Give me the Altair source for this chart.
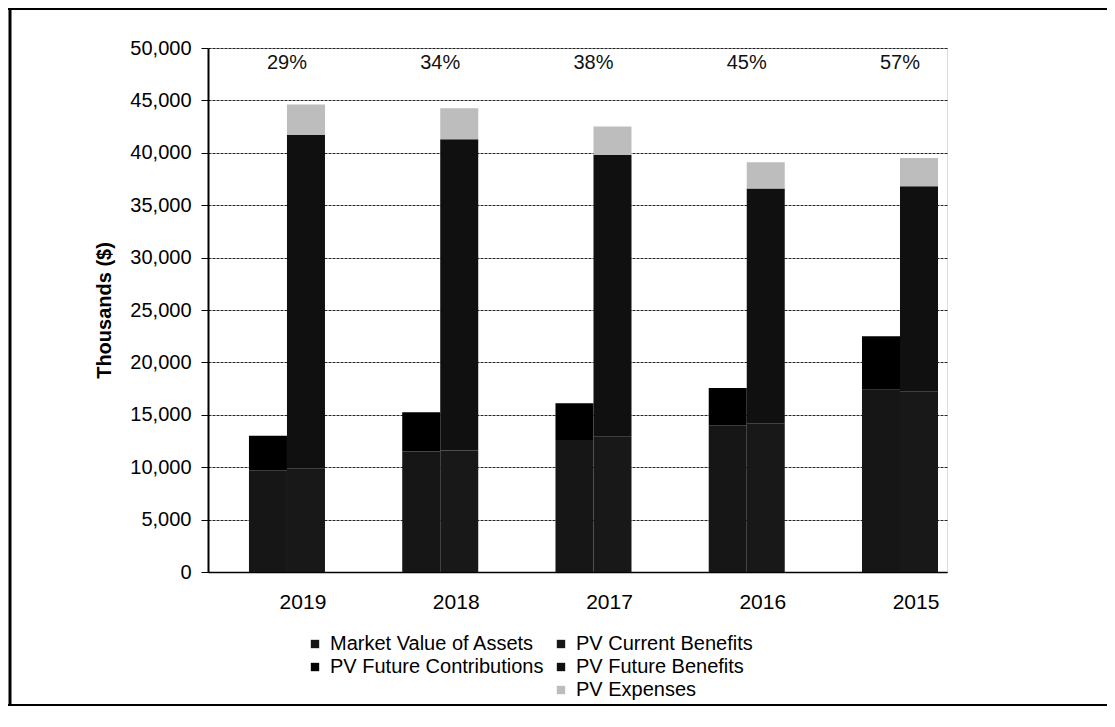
import altair as alt
import pandas as pd

years = ["2019", "2018", "2017", "2016", "2015"]
market_value_assets = [9700, 11500, 12600, 14000, 17400]
pv_future_contrib = [3300, 3750, 3500, 3550, 5100]
pv_current_benefits = [9900, 11600, 12900, 14200, 17200]
pv_future_benefits = [31800, 29700, 26900, 22400, 19600]
pv_expenses = [2900, 2950, 2700, 2500, 2700]
funded_pct = ["29%", "34%", "38%", "45%", "57%"]

left_series = ["Market Value of Assets", "PV Future Contributions"]
right_series = ["PV Current Benefits", "PV Future Benefits", "PV Expenses"]
left_colors = ["#161616", "#000000"]
right_colors = ["#181818", "#101010", "#bdbdbd"]

rows = []
for i, y in enumerate(years):
    for k, (s, vals) in enumerate(zip(left_series, [market_value_assets, pv_future_contrib])):
        rows.append({"year": y, "bar": "L", "series": s, "value": vals[i], "ord": k})
    for k, (s, vals) in enumerate(zip(right_series, [pv_current_benefits, pv_future_benefits, pv_expenses])):
        rows.append({"year": y, "bar": "R", "series": s, "value": vals[i], "ord": k})
df = pd.DataFrame(rows)
pct_df = pd.DataFrame({"year": years, "pct": funded_pct})

FONT = "Liberation Sans"

x_enc = alt.X(
    "year:N", sort=years, title=None,
    scale=alt.Scale(paddingInner=0.504, paddingOuter=0.163, align=0.82),
    axis=alt.Axis(labelFont=FONT, labelFontSize=21, labelColor="#000", labelAngle=0,
                  ticks=False, labelPadding=19, labelOffset=16, domainColor="#000", domainWidth=1.5,
                  grid=False),
)
xoff = alt.XOffset("bar:N", scale=alt.Scale(domain=["L", "R"], paddingInner=0, paddingOuter=0))
y_enc = alt.Y(
    "value:Q", stack="zero", title="Thousands ($)",
    scale=alt.Scale(domain=[0, 50000], nice=False),
    axis=alt.Axis(values=list(range(0, 50001, 5000)), format=",.0f", labelFont=FONT, labelFontSize=20,
                  labelColor="#000", tickSize=7, tickColor="#000", labelPadding=10,
                  domainColor="#000", domainWidth=2,
                  grid=True, gridColor="#000", gridDash=[3, 1], gridWidth=1, gridOpacity=0.85,
                  titleFont=FONT, titleFontSize=20, titleFontWeight="bold", titleColor="#000",
                  titleX=-104, titleY=262, titleAngle=-90, titleAlign="center", titleBaseline="middle"),
)

legend_common = dict(orient="none", direction="vertical", title=None, labelFont=FONT,
                     labelFontSize=20, labelColor="#000", symbolType="square", symbolSize=70,
                     symbolStrokeWidth=0, labelOffset=5, rowPadding=3, labelLimit=0)

left_layer = alt.Chart(df).transform_filter(alt.datum.bar == "L").mark_bar(stroke=None).encode(
    x=x_enc, xOffset=xoff, y=y_enc,
    color=alt.Color("series:N", scale=alt.Scale(domain=left_series, range=left_colors),
                    legend=alt.Legend(legendX=97, legendY=586, **legend_common)),
    order=alt.Order("ord:Q"),
)
right_layer = alt.Chart(df).transform_filter(alt.datum.bar == "R").mark_bar(stroke=None).encode(
    x=x_enc, xOffset=xoff, y=y_enc,
    color=alt.Color("series:N", scale=alt.Scale(domain=right_series, range=right_colors),
                    legend=alt.Legend(legendX=343, legendY=586, **legend_common)),
    order=alt.Order("ord:Q"),
)
pct_layer = alt.Chart(pct_df).mark_text(font=FONT, fontSize=20, color="#111", baseline="middle").encode(
    x=alt.X("year:N", sort=years), y=alt.value(15), text="pct:N",
)

frame_df = pd.DataFrame({"a": [0]})
frame_left = alt.Chart(frame_df).mark_rule(color="#000", strokeWidth=3).encode(
    x=alt.value(-198), y=alt.value(-40), y2=alt.value(658))
frame_top = alt.Chart(frame_df).mark_rule(color="#000", strokeWidth=2).encode(
    x=alt.value(-200), x2=alt.value(900), y=alt.value(-39))
frame_bottom = alt.Chart(frame_df).mark_rule(color="#000", strokeWidth=2).encode(
    x=alt.value(-200), x2=alt.value(900), y=alt.value(657))

chart = alt.layer(left_layer, right_layer, pct_layer, frame_left, frame_top, frame_bottom).resolve_scale(
    color="independent"
).properties(
    width=739, height=524,
    autosize=alt.AutoSizeParams(type="none"),
    padding={"left": 200, "top": 40, "right": 160, "bottom": 150},
).configure_view(stroke=None).configure(background="white")

chart.save("out.html", embed_options={"renderer": "svg", "actions": False})
